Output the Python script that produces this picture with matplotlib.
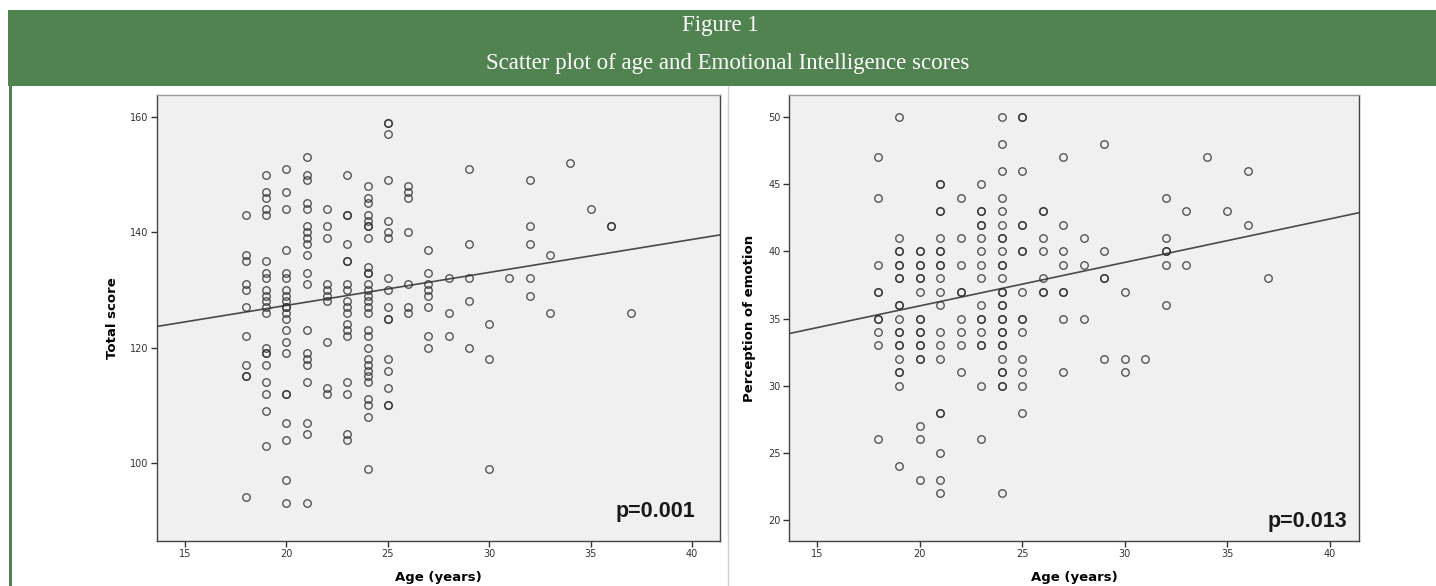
import matplotlib
matplotlib.use("Agg")
import matplotlib.pyplot as plt
from matplotlib.patches import Rectangle
from matplotlib.lines import Line2D
import numpy as np

# ---------------- data ----------------
ages = [18, 19, 20, 21, 22, 23, 24, 25, 26, 27, 28, 29, 30, 31, 32, 33, 34, 35, 36, 37]

total_scores = [
    [143, 136, 135, 131, 130, 127, 122, 117, 115, 115, 94],
    [150, 147, 146, 144, 143, 135, 133, 132, 130, 129, 128, 127, 126, 120, 119, 119, 117, 114, 112, 109, 103],
    [151, 147, 144, 137, 133, 132, 130, 129, 128, 127, 127, 126, 125, 123, 121, 119, 112, 112, 107, 104, 97, 93],
    [153, 150, 149, 145, 144, 141, 140, 139, 138, 136, 133, 131, 123, 119, 118, 117, 114, 107, 105, 93],
    [144, 141, 139, 131, 130, 129, 128, 121, 113, 112],
    [150, 143, 143, 138, 135, 135, 131, 130, 128, 127, 126, 124, 123, 122, 114, 112, 105, 104],
    [148, 146, 145, 143, 142, 141, 141, 139, 134, 133, 133, 131, 130, 129, 128, 127, 126, 123, 122, 120,
     118, 117, 116, 115, 114, 111, 110, 108, 99],
    [159, 159, 157, 149, 142, 140, 139, 132, 130, 127, 125, 125, 118, 116, 113, 110, 110],
    [148, 147, 146, 140, 131, 127, 126],
    [137, 133, 131, 130, 129, 127, 122, 120],
    [132, 126, 122],
    [151, 138, 132, 128, 120],
    [124, 118, 99],
    [132],
    [149, 141, 138, 132, 129],
    [136, 126],
    [152],
    [144],
    [141, 141],
    [126],
]

emotion_scores = [
    [47, 44, 39, 37, 37, 35, 35, 34, 33, 26],
    [50, 41, 40, 40, 39, 39, 38, 38, 36, 36, 35, 34, 34, 33, 33, 32, 31, 31, 30, 24],
    [40, 40, 39, 39, 38, 38, 37, 35, 35, 34, 34, 33, 33, 32, 32, 27, 26, 23],
    [45, 45, 43, 43, 41, 40, 40, 39, 39, 38, 37, 36, 34, 33, 32, 28, 28, 25, 23, 22],
    [44, 41, 39, 37, 37, 35, 34, 33, 31],
    [45, 43, 43, 42, 42, 41, 40, 39, 38, 36, 35, 35, 34, 33, 33, 30, 26],
    [50, 48, 46, 44, 43, 42, 41, 41, 40, 39, 39, 38, 37, 37, 36, 36, 35, 35, 34, 34, 33, 33, 32, 31, 31,
     30, 30, 22],
    [50, 50, 46, 42, 42, 40, 40, 37, 35, 35, 34, 32, 31, 30, 28],
    [43, 43, 41, 40, 38, 37, 37],
    [47, 42, 40, 39, 37, 37, 35, 31],
    [41, 39, 35],
    [48, 40, 38, 38, 32],
    [37, 32, 31],
    [32],
    [44, 41, 40, 40, 39, 36],
    [43, 39],
    [47],
    [43],
    [46, 42],
    [38],
]

# fit lines: (intercept, slope)
fit_total = (115.87, 0.572)
fit_emotion = (29.46, 0.324)

p_total = "p=0.001"
p_emotion = "p=0.013"

x_ticks = [15, 20, 25, 30, 35, 40]
total_yticks = [100, 120, 140, 160]
emotion_yticks = [20, 25, 30, 35, 40, 45, 50]

title_line1 = "Figure 1"
title_line2 = "Scatter plot of age and Emotional Intelligence scores"

# ---------------- figure ----------------
W, H = 1436, 586
fig = plt.figure(figsize=(W / 100, H / 100), dpi=100)
fig.patch.set_facecolor("white")

green = "#50834F"


def fx(px):
    return px / W


def fy(py):
    return 1 - py / H


# header band
fig.patches.append(Rectangle((fx(8), fy(86)), 1 - fx(8), fy(10) - fy(86),
                             transform=fig.transFigure, facecolor=green, edgecolor="none", zorder=0))
# left green border
fig.patches.append(Rectangle((fx(9), 0), fx(3), fy(86),
                             transform=fig.transFigure, facecolor=green, edgecolor="none", zorder=0))
# separator between panels
fig.lines.append(Line2D([fx(728), fx(728)], [0, fy(86)], transform=fig.transFigure,
                        color="#d0d0d0", lw=1.0))

fig.text(fx(720), fy(26), title_line1, ha="center", va="center", color="white",
         fontsize=16.5, family="Liberation Serif")
fig.text(fx(728), fy(64), title_line2, ha="center", va="center", color="white",
         fontsize=16.5, family="Liberation Serif")


def flatten(ages, groups):
    xs, ys = [], []
    for a, g in zip(ages, groups):
        xs.extend([a] * len(g))
        ys.extend(g)
    return np.array(xs, float), np.array(ys, float)


def make_panel(left_px, right_px, xlim, ylim, groups, fit, yticks, ylabel, ptext, p_xy, ylab_x):
    top_px, bot_px = 95, 541
    ax = fig.add_axes([fx(left_px), fy(bot_px), fx(right_px - left_px), (bot_px - top_px) / H])
    ax.set_facecolor("#F0F0F0")
    xs, ys = flatten(ages, groups)
    ax.plot(xs, ys, linestyle="none", marker="o", markersize=5.4, markerfacecolor="none",
            markeredgecolor="#2e2e2e", markeredgewidth=1.0, alpha=0.8, zorder=3)
    lx = np.array(xlim)
    ax.plot(lx, fit[0] + fit[1] * lx, color="#4a4a4a", lw=1.2, zorder=2)
    ax.set_xlim(*xlim)
    ax.set_ylim(*ylim)
    ax.set_xticks(x_ticks)
    ax.set_yticks(yticks)
    ax.tick_params(direction="out", length=4, width=1, color="#333333", labelsize=7,
                   labelcolor="#333333", pad=2)
    for s in ax.spines.values():
        s.set_color("#444444")
        s.set_linewidth(1)
    ax.spines["top"].set_color("#999999")
    ax.set_xlabel("Age (years)", fontsize=9.5, fontweight="bold", va="center")
    ax.xaxis.set_label_coords(0.5, (bot_px - 578) / (bot_px - top_px))
    ax.set_ylabel(ylabel, fontsize=9.5, fontweight="bold", va="center")
    ax.yaxis.set_label_coords(ylab_x, 0.5)
    ax.text(p_xy[0], p_xy[1], ptext, transform=ax.transAxes, ha="right", va="baseline",
            fontsize=15.5, fontweight="bold", family="Liberation Sans", color="#1a1a1a")
    return ax


make_panel(157, 720, (13.62, 41.38), (86.45, 163.8), total_scores, fit_total,
           total_yticks, "Total score", p_total, (0.957, 0.054), (113 - 157) / (720 - 157))
make_panel(789, 1359, (13.64, 41.41), (18.44, 51.64), emotion_scores, fit_emotion,
           emotion_yticks, "Perception of emotion", p_emotion, (0.979, 0.032), (750 - 789) / (1359 - 789))

fig.savefig("out.png", dpi=100, facecolor="white")
